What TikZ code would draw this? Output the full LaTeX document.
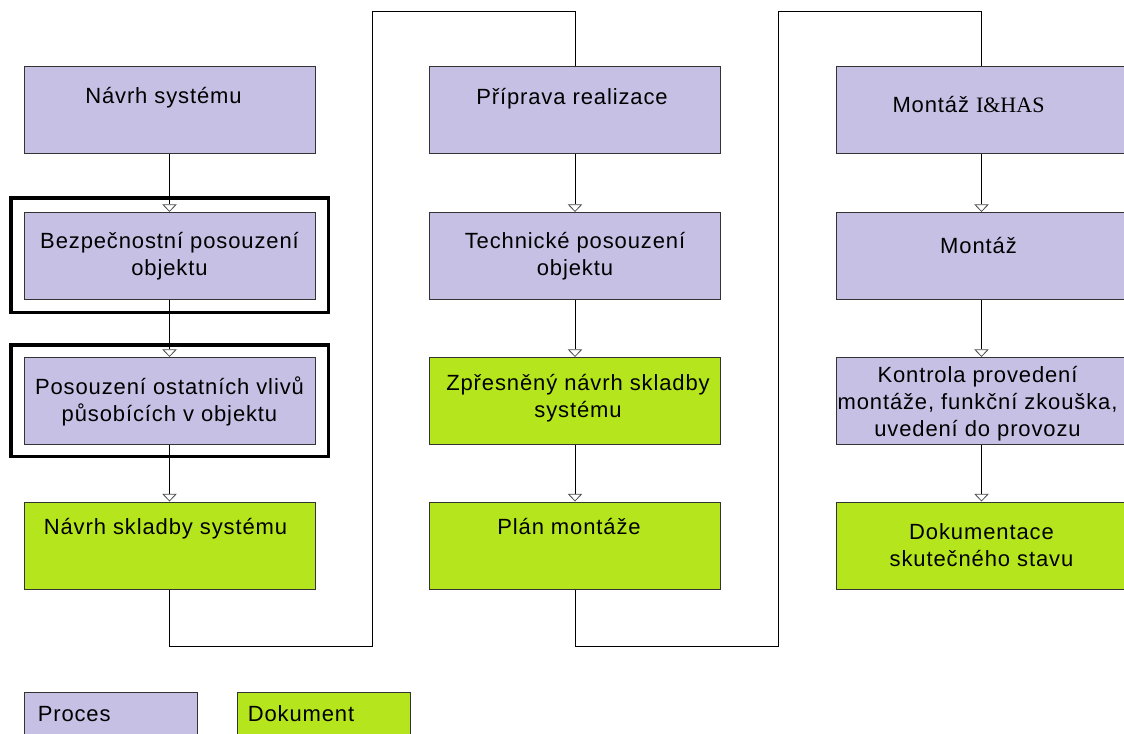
\documentclass[tikz,border=0pt]{standalone}
\usepackage{fontspec}
\setmainfont{Liberation Sans}[LetterSpace=4]
\newfontfamily\serifpart{Liberation Serif}
\usetikzlibrary{arrows.meta}
\definecolor{procesfill}{RGB}{199,192,229}
\definecolor{dokumentfill}{RGB}{181,230,29}

\begin{document}
\begin{tikzpicture}[x=0.75pt, y=-0.75pt,
  box/.style={rectangle, draw=black!80, line width=0.75pt, minimum width=218.25pt, minimum height=65.25pt, inner sep=0pt},
  proces/.style={box, fill=procesfill},
  dokument/.style={box, fill=dokumentfill},
  txt/.style={align=center, inner sep=0pt, font=\fontsize{16.5}{20.25}\selectfont},
  frame/.style={draw=black, line width=2.4pt},
  flow/.style={draw=black, line width=0.75pt},
  next/.style={flow, -{Triangle[open, length=5.8pt, width=11pt, line width=0.6pt, color=black!70]}}]

\useasboundingbox (0,0) rectangle (1124,733);
\clip (0,0) rectangle (1124,733);

\draw [frame] (11,198) rectangle (328.5,312.5);
\draw [frame] (11,345) rectangle (328.5,456.7);

\draw (169.5,110) node (navrh) [proces] {};
\draw (navrh) ++(-6,-7) node (navrhtxt) [txt, anchor=base] {Návrh systému};
\draw (169.5,256) node (bezpecnost) [proces, txt] {Bezpečnostní posouzení\\objektu};
\draw (169.5,401) node (vlivy) [proces, txt] {Posouzení ostatních vlivů\\působících v objektu};
\draw (169.5,545.5) node (skladba) [dokument] {};
\draw (skladba) ++(-4,-11) node (skladbatxt) [txt, anchor=base] {Návrh skladby systému};

\draw (575,110) node (priprava) [proces] {};
\draw (priprava) ++(-3,-6) node (pripravatxt) [txt, anchor=base] {Příprava realizace};
\draw (575,256) node (technicke) [proces, txt] {Technické posouzení\\objektu};
\draw (575,401) node (zpresneni) [dokument] {};
\draw (zpresneni) ++(3,-3) node (zpresnenitxt) [txt] {Zpřesněný návrh skladby\\systému};
\draw (575,545.5) node (plan) [dokument] {};
\draw (plan) ++(-6,-11) node (plantxt) [txt, anchor=base] {Plán montáže};

\draw (981.5,110) node (montazhas) [proces] {};
\draw (montazhas) ++(-13,2) node (montazhastxt) [txt, anchor=base] {Montáž {\serifpart I\&HAS}};
\draw (981.5,256) node (montaz) [proces] {};
\draw (montaz) ++(-3,-3) node (montaztxt) [txt, anchor=base] {Montáž};
\draw (981.5,401) node (kontrola) [proces] {};
\draw (kontrola) ++(-4,3) node (kontrolatxt) [txt] {Kontrola provedení\\montáže, funkční zkouška,\\uvedení do provozu};
\draw (981.5,545.5) node (dokumentace) [dokument, txt] {Dokumentace\\skutečného stavu};

\draw [next] (navrh.south) -- (bezpecnost.north);
\draw [next] (bezpecnost.south) -- (vlivy.north);
\draw [next] (vlivy.south) -- (skladba.north);
\draw [next] (priprava.south) -- (technicke.north);
\draw [next] (technicke.south) -- (zpresneni.north);
\draw [next] (zpresneni.south) -- (plan.north);
\draw [next] (montazhas.south) -- (montaz.north);
\draw [next] (montaz.south) -- (kontrola.north);
\draw [next] (kontrola.south) -- (dokumentace.north);

\draw [flow] (skladba.south) -- ++(0,57) -| ++(203,-635) -| (priprava.north);
\draw [flow] (plan.south) -- ++(0,57) -| ++(203,-635) -| (montazhas.north);

\draw (110.5,721) node (legproces) [proces, minimum width=129.75pt, minimum height=43.5pt] {};
\draw (legproces.north west) ++(14,30) node (procestxt) [txt, anchor=base west] {Proces};
\draw (323.5,721) node (legdokument) [dokument, minimum width=129.75pt, minimum height=43.5pt] {};
\draw (legdokument.north west) ++(11,30) node (dokumenttxt) [txt, anchor=base west] {Dokument};

\end{tikzpicture}
\end{document}
